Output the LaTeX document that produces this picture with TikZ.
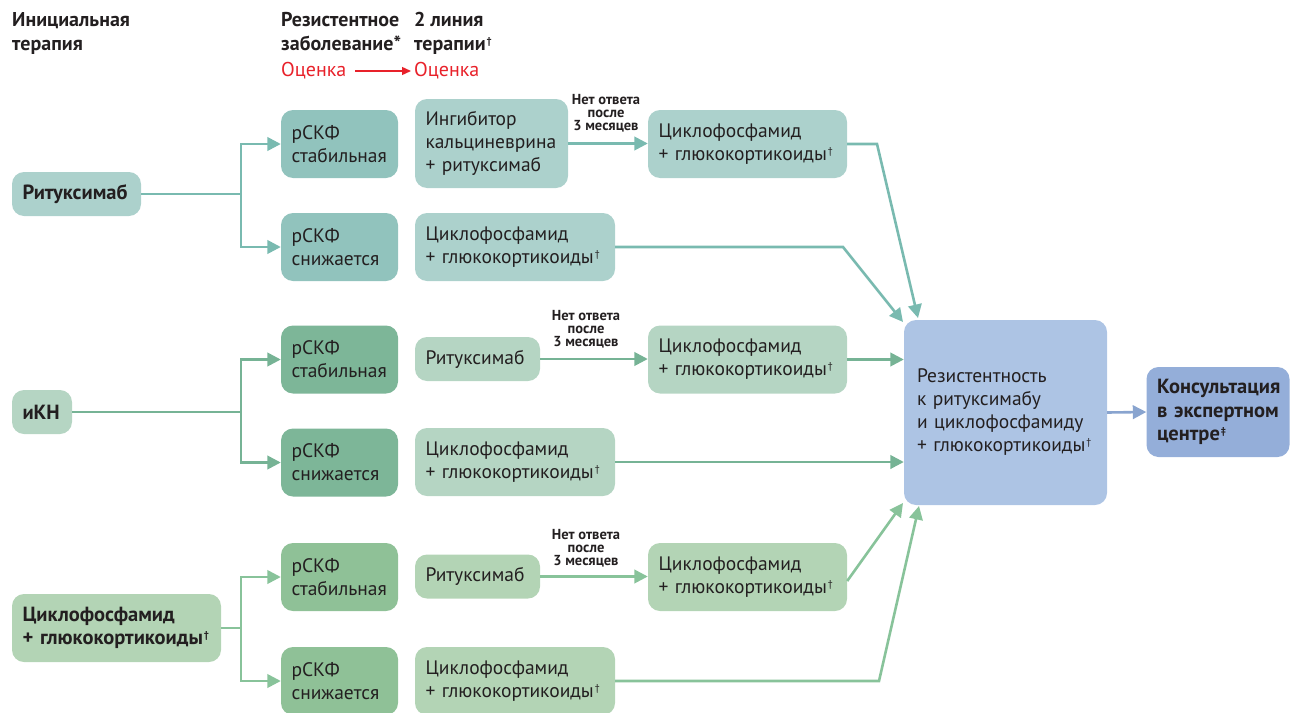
\documentclass[tikz,border=0pt]{standalone}
\usepackage{fontspec}
\setmainfont{PT Sans}
\usetikzlibrary{arrows.meta}

\definecolor{ink}{HTML}{231F20}
\definecolor{redc}{HTML}{E8212A}
% teal group (rituximab)
\definecolor{aL}{HTML}{ACD1CC}
\definecolor{aD}{HTML}{91C3BD}
\definecolor{aA}{HTML}{79BAB0}
% green group (CNI)
\definecolor{bL}{HTML}{B5D5C3}
\definecolor{bD}{HTML}{7DB698}
\definecolor{bA}{HTML}{76B395}
% light green group (cyclophosphamide)
\definecolor{cL}{HTML}{B3D4B5}
\definecolor{cD}{HTML}{8FC197}
\definecolor{cA}{HTML}{88C39A}
% blue outcome boxes
\definecolor{bigc}{HTML}{ADC4E4}
\definecolor{consc}{HTML}{94AED9}
\definecolor{consA}{HTML}{89A4CF}

\newcommand{\bodyfont}{\fontsize{19.5}{23}\selectfont}
\newcommand{\boldbody}{\bfseries\fontsize{20.5}{23.5}\selectfont}
\newcommand{\labfont}{\bfseries\fontsize{14.5}{13}\selectfont}
\newcommand{\headfont}{\bfseries\fontsize{20}{24}\selectfont}
\newcommand{\dg}[1]{\kern1pt\raisebox{6pt}{\fontsize{10}{10}\selectfont #1}}

\begin{document}
\begin{tikzpicture}[x=1pt,y=-1pt,
  box/.style={rounded corners=12pt, inner xsep=10.5pt, inner ysep=0pt,
    align=left, text=ink, font=\bodyfont},
  bbox/.style={box, font=\boldbody},
  conn/.style={line width=2.6pt, draw=#1},
  arr/.style={conn=#1, -{Triangle[length=13.5pt,width=13.5pt]}},
  lab/.style={align=center, text=ink, font=\labfont, inner sep=0pt},
  head/.style={align=left, text=ink, font=\headfont, inner sep=0pt, anchor=north west},
  red/.style={text=redc, font=\fontsize{20}{22}\selectfont, inner sep=0pt, anchor=west}
]
\useasboundingbox (0,0) rectangle (1290,712);

% ---- column headings
\node[head] (h1) at (12,12) {Инициальная\\терапия};
\node[head] (h2) at (281,12) {Резистентное\\заболевание*};
\node[head] (h3) at (414,12) {2 линия\\терапии\dg{†}};
\node[red] (e1) at (281,71) {Оценка};
\node[red] (e2) at (414,71) {Оценка};
\draw[redc, line width=1.4pt, -{Triangle[length=9pt,width=8pt]}] (e1.east) ++(9,0) -- ([xshift=-3pt]e2.west);

% ---- rituximab branch
\node[bbox, fill=aL, text width=108pt, minimum height=44pt] (ritA) at (76.5,194) {Ритуксимаб};
\node[box, fill=aD, text width=96pt, minimum height=68pt] (sA1) at (339.5,144) {рСКФ\\стабильная};
\node[box, fill=aD, text width=96pt, minimum height=68pt] (sA2) at (339.5,247) {рСКФ\\снижается};
\node[box, fill=aL, text width=132pt, minimum height=89pt] (inhA) at (491.5,143.5) {Ингибитор\\кальциневрина\\+ ритуксимаб};
\node[box, fill=aL, text width=178pt, minimum height=68pt] (cyA1) at (747.5,144) {Циклофосфамид\\+ глюкокортикоиды\dg{†}};
\node[box, fill=aL, text width=179pt, minimum height=68pt] (cyA2) at (515,247) {Циклофосфамид\\+ глюкокортикоиды\dg{†}};

% ---- CNI branch
\node[bbox, fill=bL, text width=39pt, minimum height=44pt] (iknB) at (42,412) {иКН};
\node[box, fill=bD, text width=96pt, minimum height=68pt] (sB1) at (339.5,359.5) {рСКФ\\стабильная};
\node[box, fill=bD, text width=96pt, minimum height=68pt] (sB2) at (339.5,462.5) {рСКФ\\снижается};
\node[box, fill=bL, text width=104pt, minimum height=44pt] (ritB) at (477.5,359) {Ритуксимаб};
\node[box, fill=bL, text width=178pt, minimum height=68pt] (cyB1) at (747.5,359.5) {Циклофосфамид\\+ глюкокортикоиды\dg{†}};
\node[box, fill=bL, text width=179pt, minimum height=68pt] (cyB2) at (515,462) {Циклофосфамид\\+ глюкокортикоиды\dg{†}};

% ---- cyclophosphamide branch
\node[bbox, fill=cL, text width=188pt, minimum height=68pt] (cyC0) at (116.5,628) {Циклофосфамид\\\mbox{+ глюкокортикоиды\dg{†}}};
\node[box, fill=cD, text width=96pt, minimum height=68pt] (sC1) at (339.5,577) {рСКФ\\стабильная};
\node[box, fill=cD, text width=96pt, minimum height=68pt] (sC2) at (339.5,681) {рСКФ\\снижается};
\node[box, fill=cL, text width=104pt, minimum height=44pt] (ritC) at (477.5,576.5) {Ритуксимаб};
\node[box, fill=cL, text width=178pt, minimum height=68pt] (cyC1) at (747.5,577) {Циклофосфамид\\+ глюкокортикоиды\dg{†}};
\node[box, fill=cL, text width=179pt, minimum height=68pt] (cyC2) at (515,681) {Циклофосфамид\\+ глюкокортикоиды\dg{†}};

% ---- outcome
\node[box, fill=bigc, inner xsep=13pt, text width=177pt, minimum height=185pt] (big) at (1005.5,412.5) {Резистентность\\к ритуксимабу\\и циклофосфамиду\\+ глюкокортикоиды\dg{†}};
\node[bbox, fill=consc, text width=122pt, minimum height=90pt] (cons) at (1218,412) {Консультация\\в экспертном\\центре\dg{‡}};

% ---- branching points and bends
\coordinate (jA) at (241,194);
\coordinate (jB) at (241,412);
\coordinate (jC) at (241,628);
\coordinate (kA1) at (877,144);
\coordinate (tA1) at (918,318);
\coordinate (kA2) at (843,247);
\coordinate (tA2) at (903,322);
\coordinate (tC1) at (903,503);
\coordinate (kC2) at (879,681);
\coordinate (tC2) at (919,506);

% rituximab branch connectors
\draw[conn=aA] (ritA.east) -- (jA);
\draw[arr=aA] (jA) |- (sA1.west);
\draw[arr=aA] (jA) |- (sA2.west);
\draw[arr=aA] (inhA.east) -- (cyA1.west |- inhA.east);
\node[lab] (lA) at (606,113) {Нет ответа\\после\\3 месяцев};
\draw[arr=aA] (cyA1.east) -- (kA1) -- (tA1);
\draw[arr=aA] (cyA2.east) -- (kA2) -- (tA2);

% CNI branch connectors
\draw[conn=bA] (iknB.east) -- (jB);
\draw[arr=bA] (jB) |- (sB1.west);
\draw[arr=bA] (jB) |- (sB2.west);
\draw[arr=bA] (ritB.east) -- (cyB1.west |- ritB.east);
\node[lab] (lB) at (586,329) {Нет ответа\\после\\3 месяцев};
\draw[arr=bA] (cyB1.east) -- (big.west |- cyB1.east);
\draw[arr=bA] (cyB2.east) -- (big.west |- cyB2.east);

% cyclophosphamide branch connectors
\draw[conn=cA] (cyC0.east) -- (jC);
\draw[arr=cA] (jC) |- (sC1.west);
\draw[arr=cA] (jC) |- (sC2.west);
\draw[arr=cA] (ritC.east) -- (cyC1.west |- ritC.east);
\node[lab] (lC) at (586,548) {Нет ответа\\после\\3 месяцев};
\draw[arr=cA] ([yshift=-4pt]cyC1.east) -- (tC1);
\draw[arr=cA] (cyC2.east) -- (kC2) -- (tC2);

% outcome connector
\draw[arr=consA] (big.east) -- (cons.west);
\end{tikzpicture}
\end{document}
